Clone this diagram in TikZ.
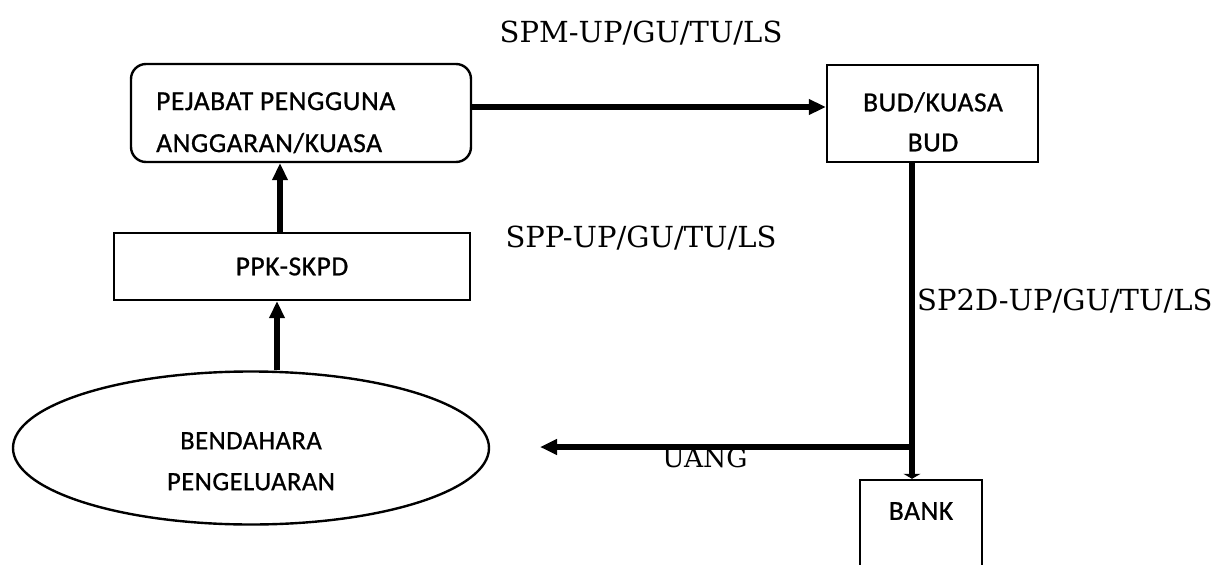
\documentclass[tikz,border=0pt]{standalone}
\usepackage{fontspec}
\setmainfont{DejaVu Serif}
\newfontfamily\boxfont[FakeBold=0.8,LetterSpace=2]{Carlito}
\usetikzlibrary{arrows.meta,shapes.geometric}
\begin{document}
\begin{tikzpicture}[x=1pt,y=-1pt,
  shapebox/.style={draw, line width=2.4pt, inner sep=0pt},
  boxtext/.style={inner sep=0pt, font=\boxfont\fontsize{27.5}{42}\selectfont},
  conn/.style={line width=5.5pt, -{Triangle[length=17pt,width=15pt]}},
  lbl/.style={inner sep=0pt, font=\fontsize{29}{34}\selectfont}]
\clip (0,0) rectangle (1227,565);
\fill[white] (0,0) rectangle (1227,565);

% shapes
\node[shapebox, rounded corners=15pt, minimum width=340pt, minimum height=98pt] (pa) at (301,113) {};
\node[boxtext, anchor=north west, align=left] (pat) at (156,92) {PEJABAT PENGGUNA\\ANGGARAN/KUASA};

\node[shapebox, minimum width=211pt, minimum height=97pt] (bud) at (932.5,113.5) {};
\node[boxtext, anchor=north, align=center, font=\boxfont\fontsize{27.5}{40}\selectfont] (budt) at (933,92) {BUD/KUASA\\BUD};

\node[shapebox, minimum width=356pt, minimum height=67pt, font=\boxfont\fontsize{27.5}{34}\selectfont] (ppk) at (292,266.5) {PPK-SKPD};

\node[shapebox, ellipse, minimum width=476pt, minimum height=153pt] (ben) at (251,448) {};
\node[boxtext, anchor=north, align=center, font=\boxfont\fontsize{26.5}{41}\selectfont] (bent) at (251,432) {BENDAHARA\\PENGELUARAN};

\node[shapebox, minimum width=122pt, minimum height=120pt] (bank) at (921,540) {};
\node[boxtext, anchor=north] (bankt) at (921,502) {BANK};

% connectors
\draw[conn] ([yshift=6pt]pa.east) -- ([yshift=6pt]pa.east -| bud.west);
\draw[conn] ([xshift=-12pt]ppk.north) -- ([xshift=-12pt]ppk.north |- pa.south);
\draw[conn] ([xshift=-15pt]ppk.south |- ben.north) -- ([xshift=-15pt]ppk.south);
\coordinate (j) at (912,447);
\coordinate (ua) at (540,447);
\draw[line width=5.5pt, -{Triangle[length=5pt,width=17pt]}] (bud.south -| j) -- (bank.north -| j);
\draw[conn] (j) -- (ua);

% labels
\node[lbl, anchor=base] (spm) at (641,42) {SPM-UP/GU/TU/LS};
\node[lbl, anchor=base] (spp) at (641,247) {SPP-UP/GU/TU/LS};
\node[lbl, anchor=base west] (sp2d) at (917,310) {SP2D-UP/GU/TU/LS};
\node[lbl, anchor=base, font=\fontsize{26.5}{30}\selectfont] (uang) at (705,467) {UANG};
\end{tikzpicture}
\end{document}
